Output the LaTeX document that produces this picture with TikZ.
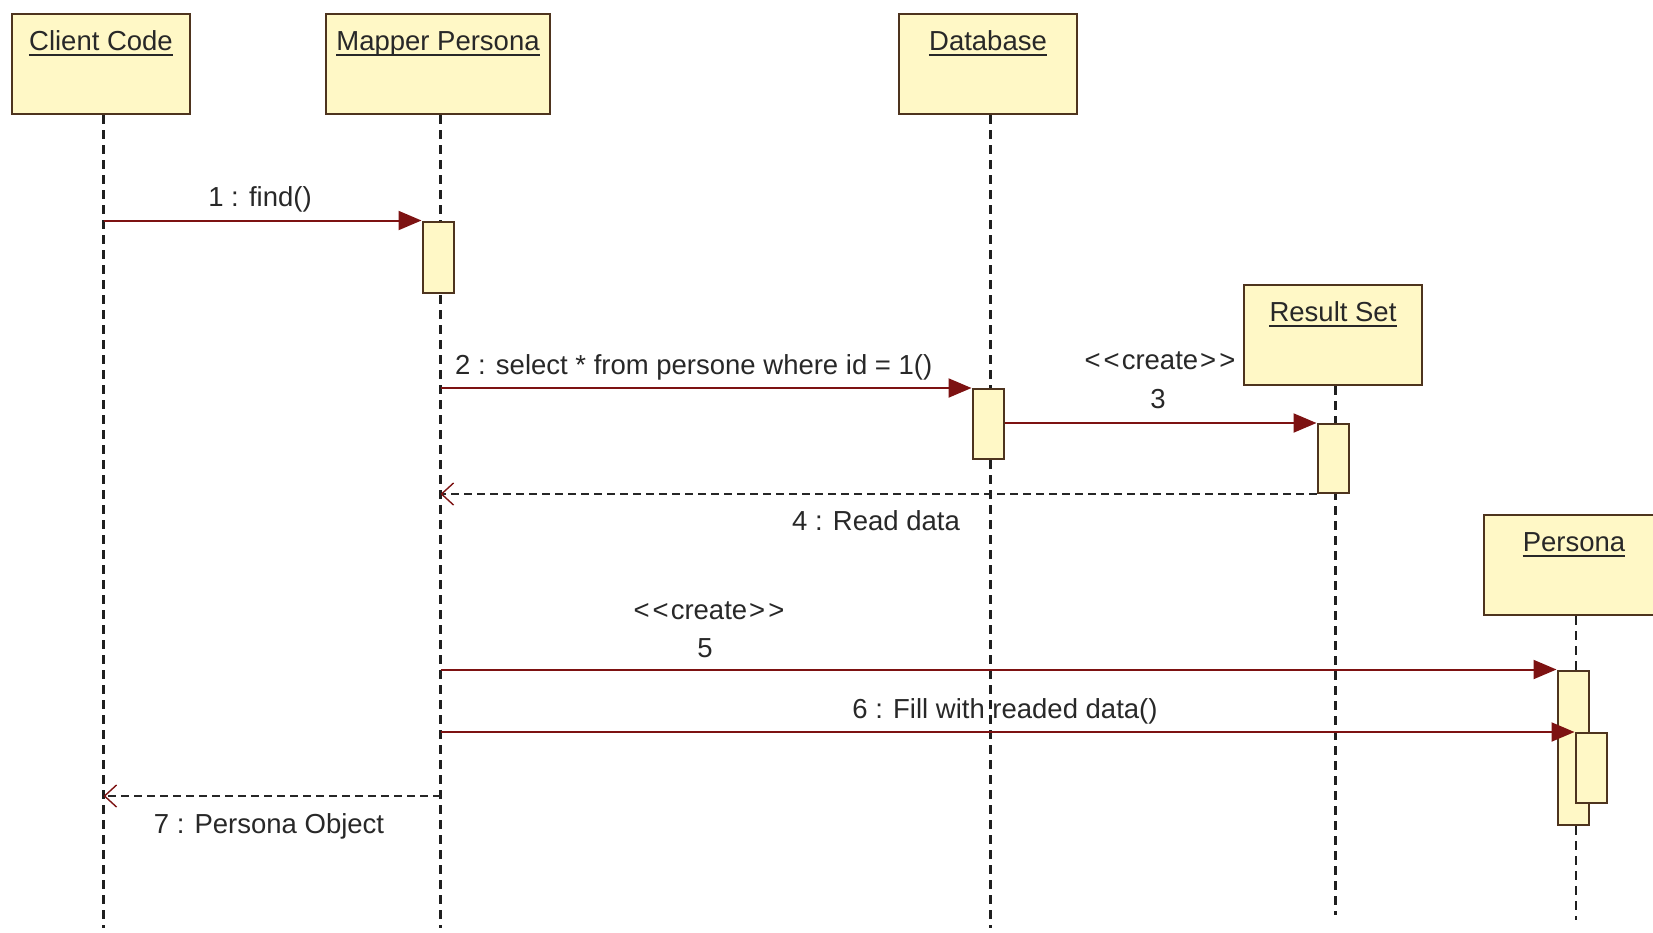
\documentclass[tikz,border=0pt]{standalone}
\usepackage{fontspec}
\setmainfont{Liberation Sans}
\usetikzlibrary{arrows.meta}
\definecolor{boxfill}{RGB}{255,248,198}
\definecolor{boxdraw}{RGB}{78,52,30}
\definecolor{msgred}{RGB}{125,18,18}
\definecolor{txtgray}{RGB}{40,40,40}
\newcommand{\crt}{<\kern3pt<\kern2pt create\kern2pt>\kern3pt>}
\begin{document}
\begin{tikzpicture}[x=1pt,y=-1pt,
  objbox/.style={draw=boxdraw, fill=boxfill, line width=2pt, minimum width=178pt, minimum height=100pt, inner sep=0pt},
  actbox/.style={draw=boxdraw, fill=boxfill, line width=2pt, minimum width=31pt, inner sep=0pt},
  objtitle/.style={anchor=base, text=txtgray, font=\fontsize{27.5}{33}\selectfont, inner sep=0pt},
  msglabel/.style={anchor=base, text=txtgray, font=\fontsize{27.5}{33}\selectfont, inner sep=0pt},
  uline/.style={draw=txtgray, line width=2pt},
  lifeline/.style={draw=black!88, line width=2.3pt, dash pattern=on 9pt off 6pt},
  callmsg/.style={draw=msgred, line width=2pt, -{Triangle[length=23pt,width=19pt,color=msgred]}},
  retmsg/.style={draw=black!85, line width=2pt, dash pattern=on 8pt off 5pt, -{Straight Barb[length=12pt,width=22pt,line width=1.4pt,color=msgred]}}
]
\useasboundingbox (0,0) rectangle (1653,932);
\fill[white] (0,0) rectangle (1653,932);
\clip (0,0) rectangle (1653,932);

% object boxes
\node[objbox] (client) at (101,64) {};
\node[objbox, minimum width=224pt] (mapper) at (438,64) {};
\node[objbox] (db) at (988,64) {};
\node[objbox] (rs) at (1333,335) {};
\node[objbox, minimum width=180pt] (persona) at (1574,565) {};

% lifeline tops and ends
\coordinate (clientL) at ([xshift=2.5pt]client.south);
\coordinate (mapperL) at ([xshift=2.5pt]mapper.south);
\coordinate (dbL) at ([xshift=2.5pt]db.south);
\coordinate (rsL) at ([xshift=2.5pt]rs.south);
\coordinate (personaL) at ([xshift=2pt]persona.south);
\coordinate (clientEnd) at (103.5,928);
\coordinate (mapperEnd) at (440.5,928);
\coordinate (dbEnd) at (990.5,928);
\coordinate (rsEnd) at (1335.5,915);
\coordinate (personaEnd) at (1576,920);

\draw[lifeline] (clientL) -- (clientEnd);
\draw[lifeline] (mapperL) -- (mapperEnd);
\draw[lifeline] (dbL) -- (dbEnd);
\draw[lifeline] (rsL) -- (rsEnd);
\draw[lifeline] (personaL) -- (personaEnd);

% titles
\node[objtitle] (clientT) at ([yshift=-37pt]client.north) {Client Code};
\node[objtitle] (mapperT) at ([yshift=-37pt]mapper.north) {Mapper Persona};
\node[objtitle] (dbT) at ([yshift=-37pt]db.north) {Database};
\node[objtitle] (rsT) at ([yshift=-37pt]rs.north) {Result Set};
\node[objtitle] (personaT) at ([yshift=-37pt]persona.north) {Persona};
\foreach \t in {clientT,mapperT,dbT,rsT,personaT}
  \draw[uline] ([yshift=-5pt]\t.base west) -- ([yshift=-5pt]\t.base east);

% activations
\node[actbox, minimum height=71pt] (a1) at (438,257) {};
\node[actbox, minimum height=70pt] (a2) at (988,424) {};
\node[actbox, minimum height=69pt] (a3) at (1333,458.5) {};
\node[actbox, minimum height=154pt] (a5) at (1573,747.5) {};
\node[actbox, minimum height=70pt] (a6) at (1591,768) {};

% message coordinates
\coordinate (r7) at (440.5,796);

% messages
\draw[callmsg] (clientL |- a1.north) -- (a1.north west);
\draw[callmsg] (mapperL |- a2.north) -- (a2.north west);
\draw[callmsg] (a2.north east |- a3.north) -- (a3.north west);
\draw[retmsg] (a3.south west) -- (mapperL |- a3.south);
\draw[callmsg] (mapperL |- a5.north) -- (a5.north west);
\draw[callmsg] (mapperL |- a6.north) -- (a6.north west);
\draw[retmsg] (r7) -- (clientL |- r7);

% labels
\node[msglabel] (l1) at (260,206) {1 : find()};
\node[msglabel, anchor=base west] (l2) at (455,374) {2 : select * from persone where id = 1()};
\node[msglabel] (l3a) at (1160,369) {\crt};
\node[msglabel] (l3b) at (1158,408) {3};
\node[msglabel] (l4) at (876,530) {4 : Read data};
\node[msglabel] (l5a) at (709,619) {\crt};
\node[msglabel] (l5b) at (705,657) {5};
\node[msglabel] (l6) at (1005,718) {6 : Fill with readed data()};
\node[msglabel] (l7) at (269,833) {7 : Persona Object};
\end{tikzpicture}
\end{document}
